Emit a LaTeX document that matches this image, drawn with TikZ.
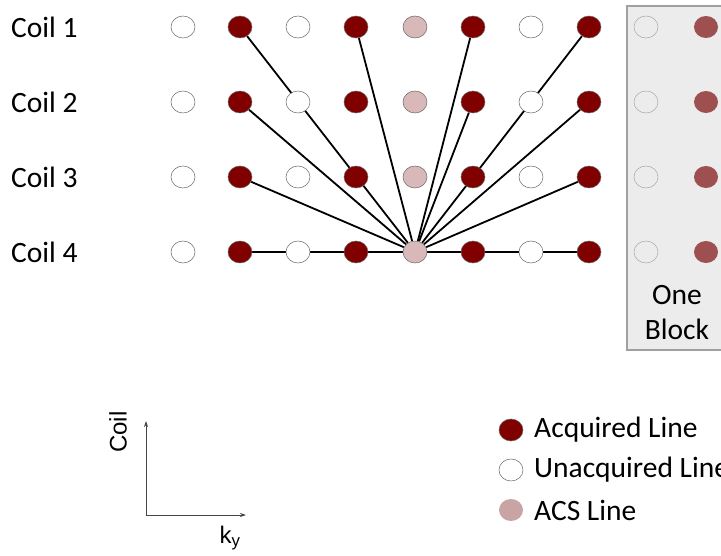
\documentclass[tikz,border=0pt]{standalone}
\usepackage{fontspec}
\setmainfont{Carlito}
\newfontfamily\arialfont{Liberation Sans}
\usetikzlibrary{shapes.geometric,backgrounds,arrows.meta}
\definecolor{acqred}{RGB}{128,0,0}
\definecolor{acspink}{RGB}{216,184,184}
\definecolor{legacs}{RGB}{200,164,164}
\definecolor{boxgray}{RGB}{236,236,236}
\definecolor{boxborder}{RGB}{160,160,160}
\definecolor{boxred}{RGB}{158,80,80}
\definecolor{axisgray}{RGB}{70,70,70}
\tikzset{
  dot/.style={ellipse, minimum width=24pt, minimum height=22pt, inner sep=0pt, draw=black!60, line width=0.5pt},
  acq/.style={dot, fill=acqred},
  una/.style={dot, fill=white},
  acs/.style={dot, fill=acspink},
  bwhite/.style={dot, fill=boxgray, draw=black!35},
  bred/.style={dot, fill=boxred, draw=none},
  lbl/.style={font=\fontsize{29.5}{34}\selectfont, inner sep=0pt, anchor=west},
  conn/.style={line width=1.8pt, black},
}
\begin{document}
\begin{tikzpicture}[x=1pt,y=-1pt]
\useasboundingbox (0,0) rectangle (721,556);
% block box
\draw[fill=boxgray, draw=boxborder, line width=1.2pt] (627,6) rectangle (740,350);
% grid
\foreach \r/\y in {1/27,2/102,3/177,4/252}{
  \node[una] (n-\r-1) at (183,\y) {};
  \node[acq] (n-\r-2) at (240,\y) {};
  \node[una] (n-\r-3) at (298,\y) {};
  \node[acq] (n-\r-4) at (356,\y) {};
  \node[acs] (n-\r-5) at (415,\y) {};
  \node[acq] (n-\r-6) at (473,\y) {};
  \node[una] (n-\r-7) at (531,\y) {};
  \node[acq] (n-\r-8) at (589,\y) {};
  \node[bwhite] (n-\r-9) at (646,\y) {};
  \node[bred] (n-\r-10) at (706,\y) {};
  \node[lbl] (c-\r) at (11,\y) {Coil \r};
}
\node[font=\fontsize{29.5}{35}\selectfont, align=center, inner sep=0pt] (blk) at (677,313) {One\\Block};
% connectors
\begin{scope}[on background layer]
  \foreach \s in {n-1-2,n-1-4,n-2-2,n-3-2,n-1-6,n-2-6,n-1-8,n-2-8,n-3-8}{
    \draw[conn] (\s) -- (n-4-5);
  }
  \draw[conn] (n-4-2) -- (n-4-3) -- (n-4-4) -- (n-4-5) -- (n-4-6) -- (n-4-7) -- (n-4-8);
\end{scope}
% axes
\coordinate (o) at (146,515);
\coordinate (ytip) at (146,421);
\coordinate (xtip) at (246,515);
\draw[axisgray, line width=0.9pt, -{Stealth[length=6pt,width=4pt]}] (o) -- (ytip);
\draw[axisgray, line width=0.9pt, -{Stealth[length=6pt,width=4pt]}] (o) -- (xtip);
\node[font=\arialfont\fontsize{24}{28}\selectfont, rotate=90, inner sep=0pt] (ylab) at (118,432) {Coil};
\node[font=\arialfont\fontsize{24}{28}\selectfont, inner sep=0pt] (xlab) at (230,538) {k\textsubscript{y}};
% legend
\node[acq] (l1) at (511,430) {};
\node[una] (l2) at (511,470) {};
\node[dot, fill=legacs, draw=none] (l3) at (511,510) {};
\node[lbl] (t1) at (534,430) {Acquired Line};
\node[lbl] (t2) at (534,470) {Unacquired Line};
\node[lbl] (t3) at (534,510) {ACS Line};
\end{tikzpicture}
\end{document}
